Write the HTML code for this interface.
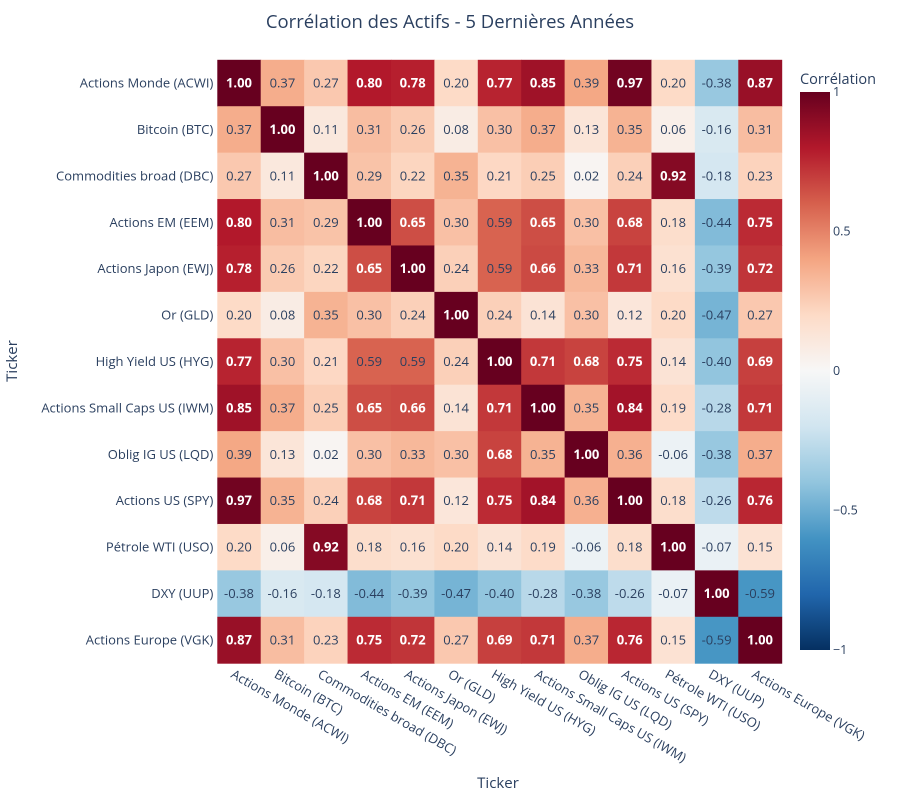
<!DOCTYPE html>
<html><head><meta charset="utf-8"><style>
body{margin:0;background:#fff;}
svg text{font-family:"Open Sans","Liberation Sans",sans-serif;}
</style></head><body>
<svg id="chart" width="900" height="800" xmlns="http://www.w3.org/2000/svg">
<text x="450" y="28" text-anchor="middle" font-size="18.5" fill="#2a3f5f">Corrélation des Actifs - 5 Dernières Années</text>
<text x="498" y="788" text-anchor="middle" font-size="15" fill="#2a3f5f">Ticker</text>
<text transform="translate(17,361) rotate(-90)" text-anchor="middle" font-size="15" fill="#2a3f5f">Ticker</text>
<g id="cells"></g>
<g id="xt"></g>
<g id="yt"></g>
<g id="cb"></g>
</svg>
<script>
const labels=["Actions Monde (ACWI)","Bitcoin (BTC)","Commodities broad (DBC)","Actions EM (EEM)","Actions Japon (EWJ)","Or (GLD)","High Yield US (HYG)","Actions Small Caps US (IWM)","Oblig IG US (LQD)","Actions US (SPY)","Pétrole WTI (USO)","DXY (UUP)","Actions Europe (VGK)"];
const row0=[1.00,0.37,0.27,0.80,0.78,0.20,0.77,0.85,0.39,0.97,0.20,-0.38,0.87];
const row1=[0.37,1.00,0.11,0.31,0.26,0.08,0.30,0.37,0.13,0.35,0.06,-0.16,0.31];
const row2=[0.27,0.11,1.00,0.29,0.22,0.35,0.21,0.25,0.02,0.24,0.92,-0.18,0.23];
const row3=[0.80,0.31,0.29,1.00,0.65,0.30,0.59,0.65,0.30,0.68,0.18,-0.44,0.75];
const row4=[0.78,0.26,0.22,0.65,1.00,0.24,0.59,0.66,0.33,0.71,0.16,-0.39,0.72];
const row5=[0.20,0.08,0.35,0.30,0.24,1.00,0.24,0.14,0.30,0.12,0.20,-0.47,0.27];
const row6=[0.77,0.30,0.21,0.59,0.59,0.24,1.00,0.71,0.68,0.75,0.14,-0.40,0.69];
const row7=[0.85,0.37,0.25,0.65,0.66,0.14,0.71,1.00,0.35,0.84,0.19,-0.28,0.71];
const row8=[0.39,0.13,0.02,0.30,0.33,0.30,0.68,0.35,1.00,0.36,-0.06,-0.38,0.37];
const row9=[0.97,0.35,0.24,0.68,0.71,0.12,0.75,0.84,0.36,1.00,0.18,-0.26,0.76];
const row10=[0.20,0.06,0.92,0.18,0.16,0.20,0.14,0.19,-0.06,0.18,1.00,-0.07,0.15];
const row11=[-0.38,-0.16,-0.18,-0.44,-0.39,-0.47,-0.40,-0.28,-0.38,-0.26,-0.07,1.00,-0.59];
const row12=[0.87,0.31,0.23,0.75,0.72,0.27,0.69,0.71,0.37,0.76,0.15,-0.59,1.00];
const matrix=[row0,row1,row2,row3,row4,row5,row6,row7,row8,row9,row10,row11,row12];
const cbTicks=[1,0.5,0,-0.5,-1];
const cbTickLabels=["1","0.5","0","−0.5","−1"];

const NS="http://www.w3.org/2000/svg";
const X0=217.3,X1=781.7,Y0=59.8,Y1=663.2;
const cw=(X1-X0)/labels.length,ch=(Y1-Y0)/labels.length;
const xPos=i=>X0+i*cw, yPos=i=>Y0+i*ch;
const scale=[[5,48,97],[33,102,172],[67,147,195],[146,197,222],[209,229,240],[247,247,247],[253,219,199],[244,165,130],[214,96,77],[178,24,43],[103,0,31]];
function color(v){let t=(v+1)/2*10;t=Math.max(0,Math.min(10,t));const i=Math.min(9,Math.floor(t)),f=t-i;const a=scale[i],b=scale[i+1];return [0,1,2].map(k=>Math.round(a[k]+(b[k]-a[k])*f));}
function el(tag,attrs,parent){const e=document.createElementNS(NS,tag);for(const k in attrs)e.setAttribute(k,attrs[k]);parent.appendChild(e);return e;}
const cells=document.getElementById('cells');
matrix.forEach((row,r)=>row.forEach((v,c)=>{
 const col=color(v);
 const rect=el('rect',{x:xPos(c),y:yPos(r),width:cw+0.5,height:ch+0.5,fill:`rgb(${col})`},cells);
 
 
 const lum=0.299*col[0]+0.587*col[1]+0.114*col[2];
 const t=el('text',{x:xPos(c)+cw/2,y:yPos(r)+ch/2+4.5,'text-anchor':'middle','font-size':13,fill:lum<130?'#fff':'#2a3f5f','font-weight':lum<130?'bold':'normal'},cells);
 t.textContent=v.toFixed(2);
 
 
}));
const xt=document.getElementById('xt'),yt=document.getElementById('yt');
labels.forEach((l,i)=>{
 const t=el('text',{transform:`translate(${xPos(i)+cw/2-4},${Y1+5}) rotate(30)`,y:10,'font-size':13,fill:'#2a3f5f'},xt);
 t.textContent=l;
 
 
 const u=el('text',{x:X0-4,y:yPos(i)+ch/2+4.5,'text-anchor':'end','font-size':13,fill:'#2a3f5f'},yt);
 u.textContent=l;
 
 
});
const cb=document.getElementById('cb');
const CBX=800,CBW=30,CBT=92,CBB=650;
const cy=v=>CBB-(v+1)/2*(CBB-CBT);
const defs=el('defs',{},cb);
const g=el('linearGradient',{id:'grad',x1:0,y1:1,x2:0,y2:0},defs);
scale.forEach((s,i)=>el('stop',{offset:i/10,'stop-color':`rgb(${s})`},g));
const bar=el('rect',{x:CBX,y:CBT,width:CBW,height:CBB-CBT,fill:'url(#grad)'},cb);


const ct=el('text',{x:CBX,y:84,'font-size':14.5,fill:'#2a3f5f'},cb);
ct.textContent='Corrélation';


cbTicks.forEach((v,i)=>{
 const t=el('text',{x:CBX+CBW+3,y:cy(v)+4,'font-size':12.5,fill:'#2a3f5f'},cb);
 t.textContent=cbTickLabels[i];
 
 
});
</script>
</body></html>
